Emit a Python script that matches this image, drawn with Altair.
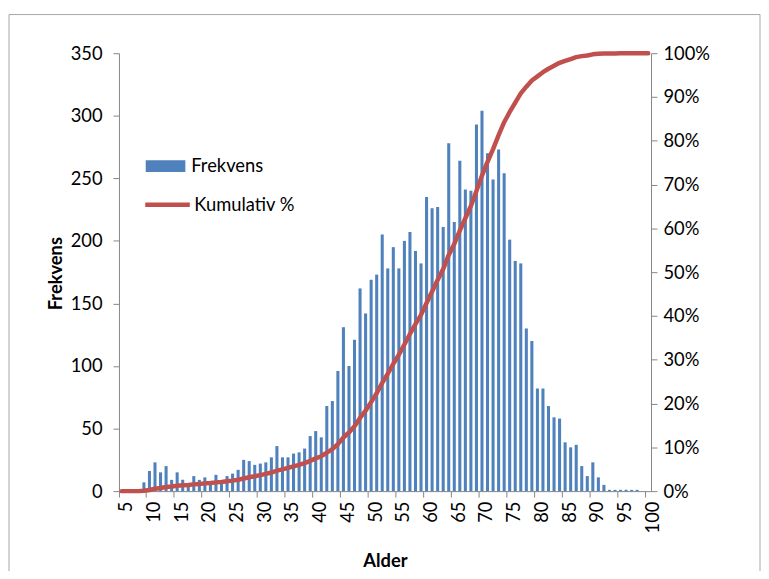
import altair as alt
import pandas as pd

ages = list(range(5, 101))
freq = [
    0, 0, 0, 0, 7, 16, 23, 15, 20, 9,
    15, 9, 6, 12, 9, 11, 7, 13, 8, 12,
    14, 17, 25, 24, 21, 22, 23, 27, 36, 27,
    27, 30, 31, 34, 44, 48, 43, 68, 72, 96,
    131, 100, 121, 162, 142, 169, 173, 205, 178, 195,
    178, 200, 207, 192, 182, 235, 226, 227, 211, 278,
    215, 264, 241, 240, 293, 304, 270, 249, 273, 254,
    201, 184, 182, 130, 120, 82, 82, 68, 59, 58,
    39, 35, 37, 20, 12, 23, 11, 5, 1, 1,
    1, 1, 1, 1, 0, 0,
]
x_labels = list(range(5, 101, 5))
left_ticks = list(range(0, 351, 50))
right_ticks = [0, 0.1, 0.2, 0.3, 0.4, 0.5, 0.6, 0.7, 0.8, 0.9, 1.0]

df = pd.DataFrame({"Alder": ages, "Frekvens": freq})

FONT = "Lato"
FS = 18.5
AXIS_GRAY = "#868686"
BLUE = "#4F81BD"
RED = "#C0504D"

x_enc = alt.X(
    "Alder:O",
    scale=alt.Scale(paddingInner=0, paddingOuter=0),
    axis=alt.Axis(
        values=x_labels,
        bandPosition=0,
        labelAngle=-90,
        labelOffset=4.5,
        labelPadding=4,
        tickSize=6,
        title="Alder",
        titleFontWeight="bold",
        titleBaseline="alphabetic",
        titleY=76,
    ),
)

bars = alt.Chart(df).mark_bar(width=alt.RelativeBandSize(0.55)).encode(
    x=x_enc,
    y=alt.Y(
        "Frekvens:Q",
        scale=alt.Scale(domain=[0, 350]),
        axis=alt.Axis(
            values=left_ticks,
            tickSize=6,
            labelPadding=11,
            title="Frekvens",
            titleFontWeight="bold",
            titleBaseline="alphabetic",
            titleX=-58,
            titleY=222,
        ),
    ),
    fill=alt.Fill(
        "serie:N",
        scale=alt.Scale(domain=["Frekvens"], range=[BLUE]),
        legend=alt.Legend(
            title=None,
            orient="none",
            legendX=27,
            legendY=94,
            padding=0,
            symbolType="M-1,-0.3H1V0.3H-1Z",
            symbolSize=1600,
            symbolStrokeWidth=0,
            labelOffset=6,
        ),
    ),
).transform_calculate(serie="'Frekvens'")

line = alt.Chart(df).transform_window(
    cum="sum(Frekvens)", sort=[alt.SortField("Alder")], frame=[None, 0]
).transform_joinaggregate(
    total="sum(Frekvens)"
).transform_calculate(
    pct="datum.cum / datum.total", serie="'Kumulativ %'"
).mark_line(strokeWidth=4.5, strokeCap="round", strokeJoin="round").encode(
    x=alt.X("Alder:O"),
    y=alt.Y(
        "pct:Q",
        scale=alt.Scale(domain=[0, 1]),
        axis=alt.Axis(
            orient="right",
            values=right_ticks,
            format=".0%",
            tickSize=6,
            labelPadding=6,
            title=None,
        ),
    ),
    stroke=alt.Stroke(
        "serie:N",
        scale=alt.Scale(domain=["Kumulativ %"], range=[RED]),
        legend=alt.Legend(
            title=None,
            orient="none",
            legendX=24,
            legendY=128,
            padding=0,
            symbolType="stroke",
            symbolSize=2025,
            symbolStrokeWidth=4.5,
            labelOffset=2,
        ),
    ),
)

border = alt.Chart(pd.DataFrame({"k": [0]})).mark_rect(
    filled=False, stroke="#A6A6A6", strokeWidth=1
).encode(
    x=alt.value(-111), x2=alt.value(647), y=alt.value(-39), y2=alt.value(700)
)

chart = alt.layer(bars, line, border).resolve_scale(
    y="independent", fill="independent", stroke="independent"
).properties(
    width=537,
    height=442,
    autosize=alt.AutoSizeParams(type="none"),
    padding={"left": 112, "top": 43, "right": 111, "bottom": 78},
    background="white",
).configure_view(strokeWidth=0).configure_axis(
    labelFont=FONT,
    labelFontSize=FS,
    labelColor="#000000",
    titleFont=FONT,
    titleFontSize=FS,
    titleColor="#000000",
    domainColor=AXIS_GRAY,
    tickColor=AXIS_GRAY,
    grid=False,
).configure_legend(
    labelFont=FONT,
    labelFontSize=FS,
    labelColor="#000000",
)

chart.save("out.html", embed_options={"renderer": "svg", "actions": False})
